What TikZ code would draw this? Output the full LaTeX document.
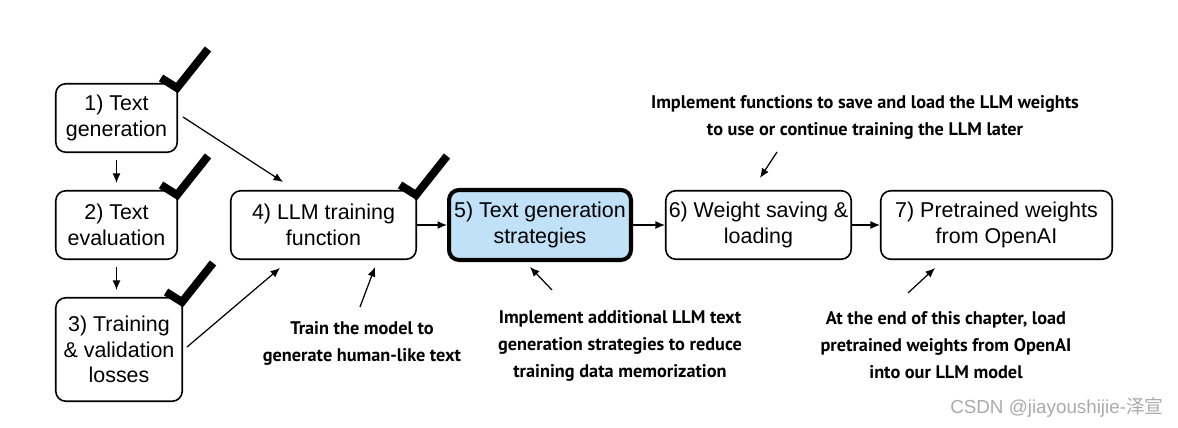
\documentclass[tikz,border=0pt]{standalone}
\usepackage{fontspec}
\setmainfont{Liberation Sans}
\newfontfamily\notefont{PT Sans}
\newfontfamily\cjkfont{Noto Sans CJK SC}
\usetikzlibrary{calc,arrows.meta}
\definecolor{stageblue}{RGB}{192,225,248}
\definecolor{markgray}{RGB}{170,170,170}
\tikzset{
  stage/.style={draw, rounded corners=0.2cm, line width=0.9pt, align=center,
    inner sep=1pt, minimum width=3.71cm, minimum height=1.37cm,
    font=\fontsize{12.2}{14.5}\selectfont},
  note/.style={align=center, font=\notefont\bfseries\fontsize{10.4}{15.3}\selectfont},
  arr/.style={line width=0.7pt, -{Latex[length=1.9mm,width=1.6mm]}},
}
% check mark sitting on the corner of a finished stage
\newcommand\DrawCheckMark[1]{%
  \draw[line width=0.16cm, line join=miter]
  ($(#1.north east)+(-17,-5)$) -- ($(#1.north east)+(-1,5)$) -- ($(#1.north east)+(30,-34)$);
}
\begin{document}
\begin{tikzpicture}[x=0.02cm, y=-0.02cm] % pixel units, y downwards

\useasboundingbox (0,0) rectangle (1178,428);

% stages
\node[stage, minimum width=2.43cm] (b1) at (116.5,118) {1) Text\\generation};
\node[stage, minimum width=2.43cm] (b2) at (116.5,225) {2) Text\\evaluation};
\node[stage, minimum width=2.53cm, minimum height=2.07cm] (b3) at (119,349.5) {3) Training\\\& validation\\losses};
\node[stage] (b4) at (323.5,225) {4) LLM training\\function};
\node[stage, fill=stageblue, line width=2.3pt, minimum width=3.64cm, minimum height=1.4cm] (b5) at (540,225) {5) Text generation\\strategies};
\node[stage] (b6) at (758.5,225) {6) Weight saving \&\\loading};
\node[stage, minimum width=4.63cm] (b7) at (996.5,225) {7) Pretrained weights\\from OpenAI};

% done stages
\foreach \b in {b1,b2,b3,b4} { \DrawCheckMark{\b} }

% flow between the stages
\draw[arr, shorten <=0.14cm, shorten >=0.14cm] (b1.south) -- (b2.north);
\draw[arr, shorten <=0.14cm, shorten >=0.14cm] (b2.south) -- (b2.south |- b3.north);
\draw[arr] ($(b1.east)+(5,-1)$) -- ($(b4.north)+(-40.5,-8)$);
\draw[arr] ($(b3.east)+(4,-2.5)$) -- ($(b4.south)+(-43.5,8)$);
\draw[arr] (b4) -- (b5);
\draw[arr] (b5) -- (b6);
\draw[arr] (b6) -- (b7);

% notes
\node[note] (n4) at (362,343.5) {Train the model to\\generate human-like text};
\node[note] (n5) at (620,346) {Implement additional LLM text\\generation strategies to reduce\\training data memorization};
\node[note] (n6) at (865,117.5) {Implement functions to save and load the LLM weights\\to use or continue training the LLM later};
\node[note] (n7) at (946,345) {At the end of this chapter, load\\pretrained weights from OpenAI\\into our LLM model};

\coordinate (t4) at (360,307);
\coordinate (t5) at (552,290);
\coordinate (t6) at (777,152);
\coordinate (t7) at (908,293);
\draw[arr] (t4) -- ($(b4.south)+(51.5,7)$);
\draw[arr] (t5) -- ($(b5.south)+(-10,5)$);
\draw[arr] (t6) -- ($(b6.north)+(1.5,-12)$);
\draw[arr] (t7) -- ($(b7.south)+(-61.5,8)$);

\node[text=markgray, font=\fontsize{10.7}{12}\selectfont] (wm) at (1057,408) {CSDN @jiayoushijie-{\cjkfont 泽宣}};
\end{tikzpicture}
\end{document}
